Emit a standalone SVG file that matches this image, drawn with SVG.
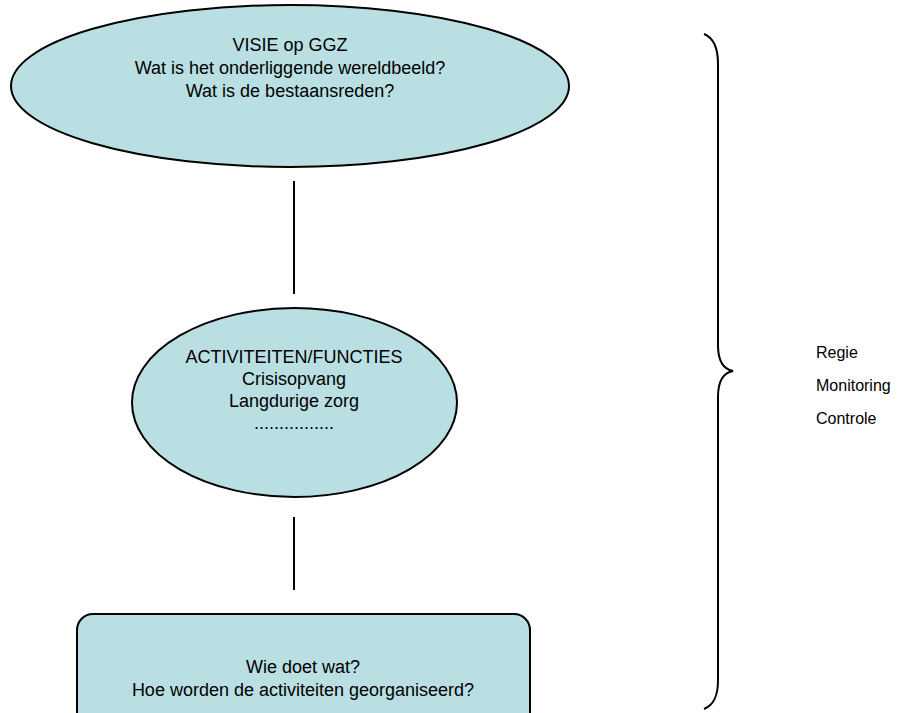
<svg xmlns="http://www.w3.org/2000/svg" width="916" height="713" viewBox="0 0 916 713">
<style>
.shape{fill:#b9dfe2;stroke:#000;stroke-width:2}
.t{font-family:"Liberation Sans",Arial,sans-serif;font-size:18px;fill:#000;text-anchor:middle}
.r{font-family:"Liberation Sans",Arial,sans-serif;font-size:16px;fill:#000}
.c{stroke:#000;stroke-width:2;fill:none}
</style>
<rect width="916" height="713" fill="#fff"/>
<g id="connectors">
<line class="c" x1="294" y1="181" x2="294" y2="294"/>
<line class="c" x1="294" y1="517" x2="294" y2="590"/>
</g>
<g id="visie">
<ellipse class="shape" cx="290" cy="86" rx="279" ry="81"/>
<text class="t" x="290" y="51">VISIE op GGZ</text>
<text class="t" x="290" y="74">Wat is het onderliggende wereldbeeld?</text>
<text class="t" x="290" y="97">Wat is de bestaansreden?</text>
</g>
<g id="activiteiten">
<ellipse class="shape" cx="294.5" cy="402.5" rx="162.5" ry="94.5"/>
<text class="t" x="294" y="363">ACTIVITEITEN/FUNCTIES</text>
<text class="t" x="294" y="385">Crisisopvang</text>
<text class="t" x="294" y="407">Langdurige zorg</text>
<text class="t" x="294" y="429">................</text>
</g>
<g id="organisatie">
<rect class="shape" x="77" y="614" width="453" height="115" rx="16"/>
<text class="t" x="303" y="673">Wie doet wat?</text>
<text class="t" x="303" y="696">Hoe worden de activiteiten georganiseerd?</text>
</g>
<g id="brace">
<path class="c" d="M704,34 C714,38 718,48 718,64 L718,345 C718,360 722,369 733,371 C722,373 718,382 718,397 L718,680 C718,696 714,705 704,709"/>
</g>
<g id="labels">
<text class="r" x="816" y="358">Regie</text>
<text class="r" x="816" y="391">Monitoring</text>
<text class="r" x="816" y="424">Controle</text>
</g>
</svg>
